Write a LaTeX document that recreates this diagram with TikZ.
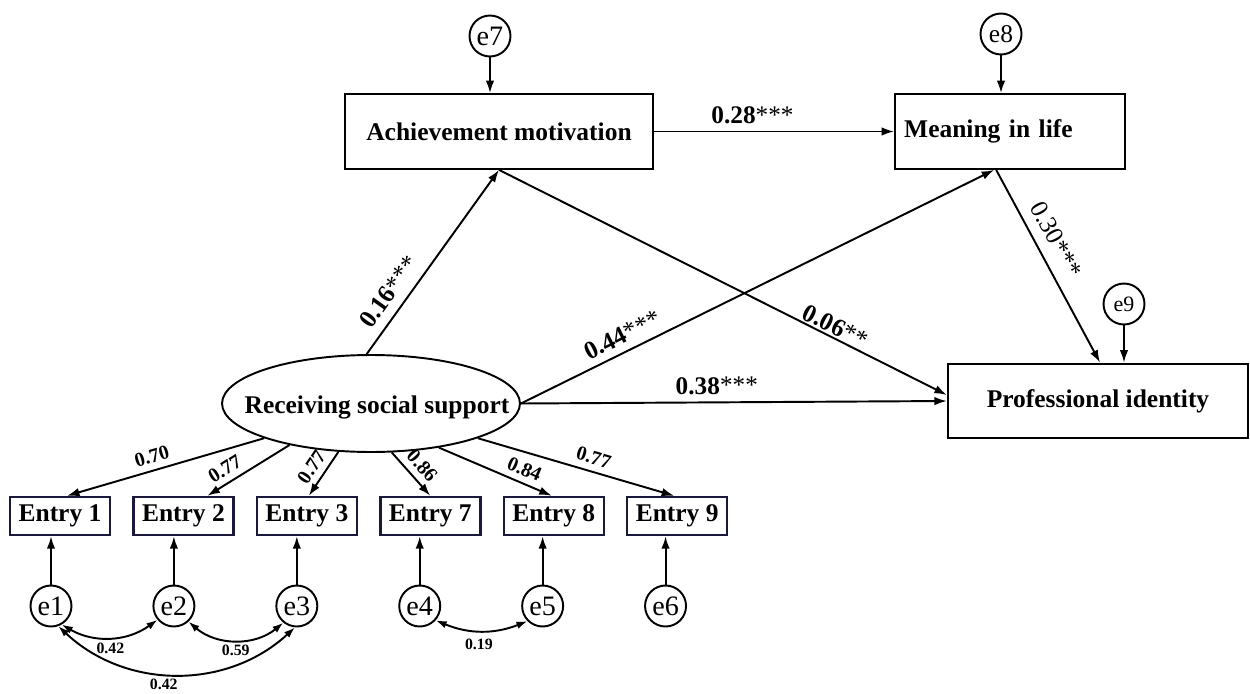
\documentclass[tikz,border=0pt]{standalone}
\usepackage{fontspec}
\setmainfont{Liberation Serif}
\usetikzlibrary{arrows.meta,positioning,shapes.geometric}
\definecolor{entryline}{RGB}{25,25,60}

\begin{document}
\begin{tikzpicture}[x=0.02cm,y=0.02cm,
  font=\bfseries\fontsize{14.5}{17}\selectfont,
  arr/.style={-{Latex[length=2.5mm,width=1.7mm]},line width=1.1pt},
  cov/.style={{Latex[length=2.2mm,width=1.5mm]}-{Latex[length=2.2mm,width=1.5mm]},line width=1.1pt},
  var/.style={draw,line width=1.3pt,minimum height=1.49cm,inner sep=0pt},
  entry/.style={draw=entryline,line width=1.4pt,minimum width=2cm,minimum height=0.76cm,inner sep=0pt},
  err/.style={draw,circle,line width=1.1pt,minimum size=0.82cm,inner sep=0pt,font=\mdseries\fontsize{16}{16}\selectfont},
  coef/.style={font=\bfseries\fontsize{14.4}{16}\selectfont,sloped,inner sep=4pt},
  load/.style={font=\bfseries\fontsize{11.4}{13}\selectfont,sloped,inner sep=3.5pt},
  corr/.style={font=\bfseries\fontsize{9}{10}\selectfont,inner sep=2.5pt}]
\path[use as bounding box,fill=white] (0,0) rectangle (1250,-693);

% structural part
\node[var,minimum width=6.16cm] (ach) at (499,-131.5) {Achievement motivation};
\node[var,minimum width=4.6cm,text width=4.24cm,align=left,inner xsep=0.18cm,right=4.8cm of ach] (mean) {Meaning in life};
\node[var,minimum width=6cm] (prof) at (1098,-401) {Professional identity};
\node[draw,ellipse,line width=1.1pt,minimum width=5.96cm,minimum height=1.94cm,inner sep=0pt,
  label={[xshift=0.12cm,yshift=-0.07cm]center:Receiving social support}] (rss) at (371,-403.5) {};

\node[err] (e7) at (490,-36) {e7};
\node[err,font=\mdseries\fontsize{14.5}{14.5}\selectfont] (e8) at (1001,-34) {e8};
\node[err,font=\mdseries\fontsize{12.5}{12.5}\selectfont] (e9) at (1124,-304) {e9};

% measurement part
\node[entry] (E1) at (60,-516) {Entry 1};
\node[entry,right=0.42cm of E1] (E2) {Entry 2};
\node[entry,right=0.42cm of E2] (E3) {Entry 3};
\node[entry,right=0.42cm of E3] (E7) {Entry 7};
\node[entry,right=0.42cm of E7] (E8) {Entry 8};
\node[entry,right=0.42cm of E8] (E9) {Entry 9};

\node[err] (e1) at (51,-606) {e1};
\node[err,right=1.6cm of e1] (e2) {e2};
\node[err,right=1.6cm of e2] (e3) {e3};
\node[err,right=1.6cm of e3] (e4) {e4};
\node[err,right=1.6cm of e4] (e5) {e5};
\node[err,right=1.6cm of e5] (e6) {e6};

\draw[arr] (e7) -- (e7 |- ach.north);
\draw[arr] (e8) -- (e8 |- mean.north);
\draw[arr] (e9) -- (e9 |- prof.north);

\draw[arr] (ach.east) -- node[coef,above,pos=.41] {0.28\textmd{***}} (ach.east -| mean.west);
\draw[arr] (rss.95) -- node[coef,above,pos=.28,inner sep=5pt] {0.16\textmd{***}} (ach.south);
\draw[arr] (ach.south) -- node[coef,above,pos=.74,inner sep=1pt] {0.06\textmd{**}} ([yshift=0.12cm]prof.west);
\draw[arr] (rss.east) -- node[coef,above,pos=.23] {0.44\textmd{***}} ([xshift=-0.32cm]mean.south);
\draw[arr] (rss.east) -- node[coef,above,pos=.46] {0.38\textmd{***}} (prof.west);
\draw[arr] ([xshift=-0.28cm]mean.south) -- node[coef,above,pos=.41,inner sep=6pt,font=\mdseries\fontsize{14.4}{16}\selectfont] {0.30***} ([xshift=0.04cm]prof.north);

\draw[arr] (rss.198) -- node[load,above,pos=.55] {0.70} ([xshift=0.14cm]E1.north);
\draw[arr] (rss.207) -- node[load,above,pos=.70] {0.77} ([xshift=0.48cm]E2.north);
\draw[arr] (rss.236) -- node[load,above,pos=.52] {0.77} ([xshift=0.04cm]E3.north);
\draw[arr] (rss.293) -- node[load,above,pos=.52] {0.86} (E7.north);
\draw[arr] (rss.327) -- node[load,above,pos=.71] {0.84} ([xshift=-0.04cm]E8.north);
\draw[arr] (rss.342) -- node[load,above,pos=.57] {0.77} ([xshift=-0.06cm]E9.north);

\foreach \i/\j in {1/1,2/2,3/3,4/7,5/8,6/9}
  \draw[arr] (e\i) -- (e\i |- E\j.south);

% correlated errors
\draw[cov] (e1.300) to[bend right=33] node[corr,below,pos=.5] {0.42} (e2.220);
\draw[cov] (e2.313) to[bend right=40] node[corr,below,pos=.5] {0.59} (e3.231);
\draw[cov] (e1.290) to[bend right=43] node[corr,below,pos=.45] {0.42} (e3.265);
\draw[cov] (e4.318) to[bend right=22] node[corr,below,pos=.47,inner sep=4pt] {0.19} (e5.225);
\end{tikzpicture}
\end{document}
